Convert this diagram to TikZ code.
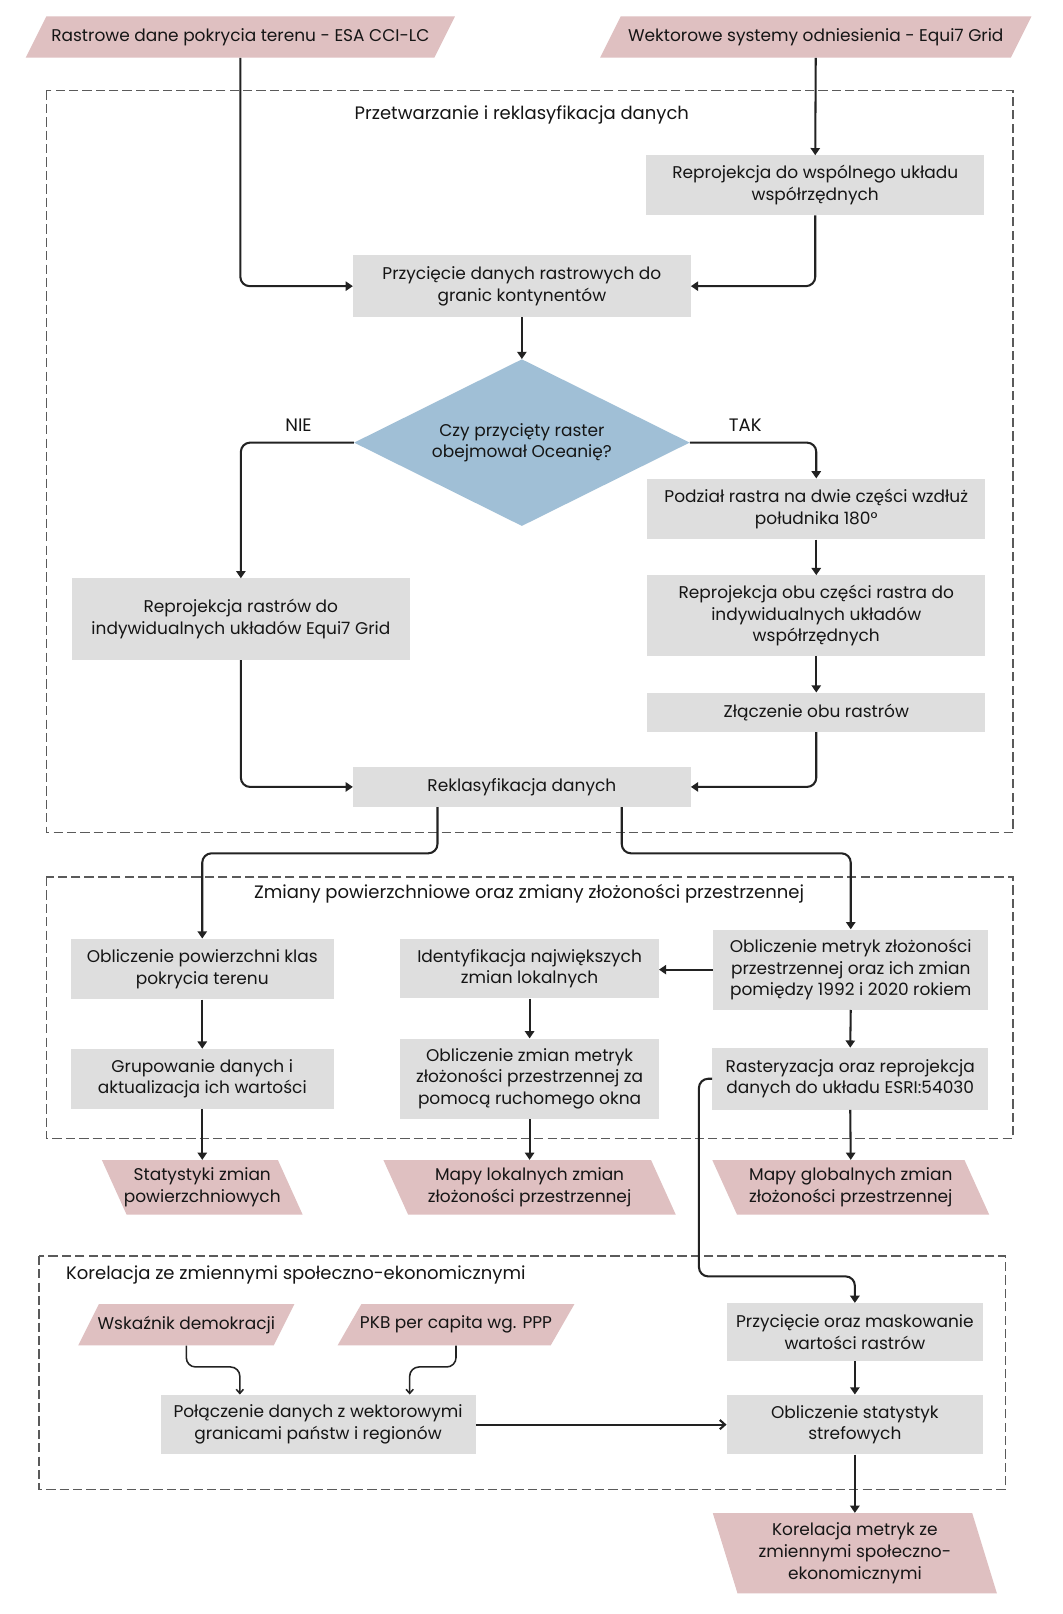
\documentclass[tikz,border=0pt]{standalone}
\usepackage{fontspec}
\setmainfont{Poppins}
\usetikzlibrary{shapes.geometric,arrows.meta,calc}
\definecolor{pinkc}{HTML}{DFC0C1}
\definecolor{grayc}{HTML}{DEDEDE}
\definecolor{bluec}{HTML}{A0BFD6}
\definecolor{linec}{HTML}{222222}
\definecolor{dashc}{HTML}{5A5A5A}
\definecolor{textc}{HTML}{151515}
\newcommand\pgram[7]{%
  \fill[pinkc] ({#2-#4+(#6)},{#3-#5}) -- ({#2+#4+(#6)},{#3-#5}) -- ({#2+#4-(#6)},{#3+#5}) -- ({#2-#4-(#6)},{#3+#5}) -- cycle;
  \node[txt, minimum width={2*#4}, minimum height={2*#5}] (#1) at (#2,#3) {#7};}
\begin{document}
\begin{tikzpicture}[x=1pt,y=-1pt,
  txt/.style={inner sep=0pt, align=center, text=textc, font=\fontsize{16.5}{21}\selectfont},
  ttl/.style={txt, font=\fontsize{17.5}{21}\selectfont},
  box/.style={txt, fill=grayc},
  grp/.style={draw=dashc, line width=1.4pt, dash pattern=on 9pt off 4pt},
  conn/.style={draw=linec, line width=2pt, rounded corners=9pt, -{Triangle[width=9pt,length=7pt]}},
  thin/.style={draw=linec, line width=1.5pt, rounded corners=9pt, -{Straight Barb[width=7pt,length=4pt]}},
  open/.style={draw=linec, line width=2pt, -{Straight Barb[width=9pt,length=5pt]}},
]
\useasboundingbox (0,0) rectangle (1032,1568);
\fill[white] (0,0) rectangle (1032,1568);

% groups
\draw[grp] (45,88) rectangle (984,809);
\draw[grp] (45,852) rectangle (984,1106);
\draw[grp] (38,1220) rectangle (977,1447);
\node[ttl] (t1) at (507,112) {Przetwarzanie i reklasyfikacja danych};
\node[ttl] (t2) at (514,868) {Zmiany powierzchniowe oraz zmiany złożoności przestrzennej};
\node[ttl, anchor=west] (t3) at (64,1239) {Korelacja ze zmiennymi społeczno-ekonomicznymi};

% sources
\pgram{src1}{233.5}{36}{198.5}{20}{10}{Rastrowe dane pokrycia terenu - ESA CCI-LC}
\pgram{src2}{792.5}{36}{199.5}{20}{10}{Wektorowe systemy odniesienia - Equi7 Grid}

% group 1
\node[box, minimum width=328pt, minimum height=58pt] (reproW) at (792,180) {Reprojekcja do wspólnego układu\\współrzędnych};
\node[box, minimum width=328pt, minimum height=60pt] (clip) at (507,278) {Przycięcie danych rastrowych do\\granic kontynentów};
\node[txt, shape=diamond, fill=bluec, aspect=2, minimum width=326pt, minimum height=162pt] (dia) at (507,430) {Czy przycięty raster\\obejmował Oceanię?};
\node[ttl] (nie) at (290,413) {NIE};
\node[ttl] (tak) at (724,413) {TAK};
\node[box, minimum width=328pt, minimum height=79pt] (reproR) at (234,601.5) {Reprojekcja rastrów do\\indywidualnych układów Equi7 Grid};
\node[box, minimum width=328pt, minimum height=59pt] (split) at (793,494.5) {Podział rastra na dwie części wzdłuż\\południka 180°};
\node[box, minimum width=328pt, minimum height=78pt] (reproB) at (793,598) {Reprojekcja obu części rastra do\\indywidualnych układów\\współrzędnych};
\node[box, minimum width=328pt, minimum height=38pt] (merge) at (793,692) {Złączenie obu rastrów};
\node[box, minimum width=328pt, minimum height=39pt] (reclass) at (507,764.5) {Reklasyfikacja danych};

% group 2
\node[box, minimum width=255pt, minimum height=59pt] (area) at (196.5,941.5) {Obliczenie powierzchni klas\\pokrycia terenu};
\node[box, minimum width=255pt, minimum height=58pt] (grpd) at (196.5,1048) {Grupowanie danych i\\aktualizacja ich wartości};
\pgram{stat}{196.5}{1153.5}{85.5}{26.5}{-12}{Statystyki zmian\\powierzchniowych}
\node[box, minimum width=251pt, minimum height=58pt] (ident) at (514.5,941) {Identyfikacja największych\\zmian lokalnych};
\node[box, minimum width=251pt, minimum height=78pt] (window) at (514.5,1048) {Obliczenie zmian metryk\\złożoności przestrzennej za\\pomocą ruchomego okna};
\pgram{localmap}{514.5}{1153.5}{130}{26.5}{-12}{Mapy lokalnych zmian\\złożoności przestrzennej}
\node[box, minimum width=267pt, minimum height=78pt] (metrics) at (826.5,942) {Obliczenie metryk złożoności\\przestrzennej oraz ich zmian\\pomiędzy 1992 i 2020 rokiem};
\node[box, minimum width=268pt, minimum height=60pt] (raster) at (826,1048) {Rasteryzacja oraz reprojekcja\\danych do układu ESRI:54030};
\pgram{globalmap}{826.5}{1153.5}{122.5}{26.5}{-12}{Mapy globalnych zmian\\złożoności przestrzennej}

% group 3
\pgram{demo}{181}{1287}{95}{20}{10}{Wskaźnik demokracji}
\pgram{pkb}{443}{1287}{103.5}{20}{11.5}{PKB per capita wg. PPP}
\node[box, minimum width=306pt, minimum height=58pt] (join) at (309,1384) {Połączenie danych z wektorowymi\\granicami państw i regionów};
\node[box, minimum width=249pt, minimum height=56pt] (mask) at (830.5,1294) {Przycięcie oraz maskowanie\\wartości rastrów};
\node[box, minimum width=249pt, minimum height=58pt] (zonal) at (830.5,1384) {Obliczenie statystyk\\strefowych};
\pgram{corr}{830.5}{1509}{126}{39}{-12}{Korelacja metryk ze\\zmiennymi społeczno-\\ekonomicznymi}

% connectors
\draw[conn] (src1.south) |- (clip.west);
\draw[conn] (src2.south) -- (reproW.north);
\draw[conn] (reproW.south) |- (clip.east);
\draw[conn] (clip.south) -- (dia.north);
\draw[conn] (dia.west) -| (reproR.north);
\draw[conn] (dia.east) -| (split.north);
\draw[conn] (split.south) -- (reproB.north);
\draw[conn] (reproB.south) -- (merge.north);
\draw[conn] (reproR.south) |- (reclass.west);
\draw[conn] (merge.south) |- (reclass.east);
\coordinate (r1) at (425,829);
\coordinate (r2) at (604,829);
\draw[conn] (reclass.south -| r1) -- (r1) -| (area.north);
\draw[conn] (reclass.south -| r2) -- (r2) -| (metrics.north);
\draw[conn] (area.south) -- (grpd.north);
\draw[conn] (grpd.south) -- (stat.north);
\draw[conn] (metrics.west) -- (metrics.west -| ident.east);
\draw[conn] (ident.south) -- (window.north);
\draw[conn] (window.south) -- (localmap.north);
\draw[conn] (metrics.south) -- (raster.north);
\draw[conn] (raster.south) -- (globalmap.north);
\coordinate (r3) at (679,1240);
\draw[conn] (raster.west) -| (r3) -| (mask.north);
\draw[conn] (mask.south) -- (zonal.north);
\draw[conn] (zonal.south) -- (corr.north);
\coordinate (d1) at (233,1328);
\coordinate (p1) at (398,1328);
\draw[thin] (demo.south) |- (d1) -- (d1 |- join.north);
\draw[thin] (pkb.south) |- (p1) -- (p1 |- join.north);
\draw[open] (join.east) -- (zonal.west);
\end{tikzpicture}
\end{document}
